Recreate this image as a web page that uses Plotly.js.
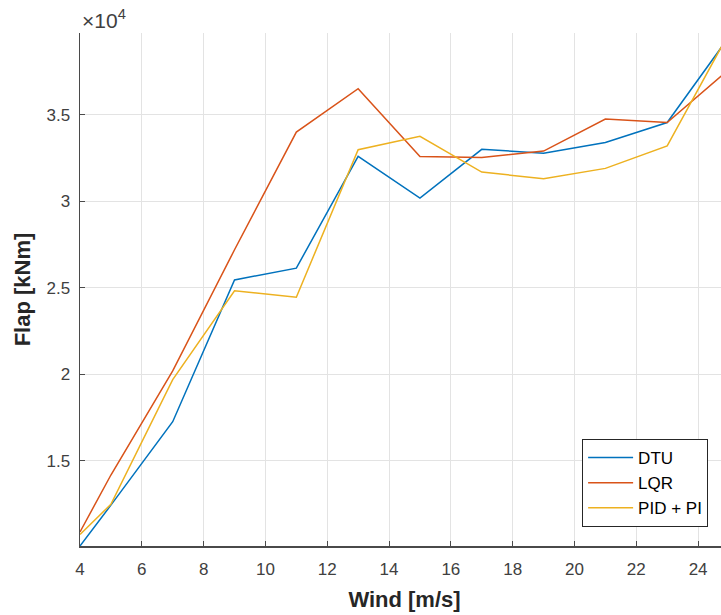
<!DOCTYPE html>
<html>
<head>
<meta charset="utf-8">
<script src="https://cdn.plot.ly/plotly-3.0.1.min.js"></script>
<style>
  html, body { margin: 0; padding: 0; overflow: hidden; background: #fff; }
  #chart { width: 735px; height: 615px; }
</style>
</head>
<body>
<div id="chart"></div>
<script>
// Wind speed [m/s]
const windSpeeds = [4, 5, 7, 9, 11, 13, 15, 17, 19, 21, 23, 25];
// Flap moment [kNm]
const dtuFlap = [10090, 12450, 17270, 25460, 26140, 32590, 30180, 33000, 32780, 33400, 34550, 39500];
const lqrFlap = [10900, 14190, 20200, 27200, 34000, 36500, 32590, 32530, 32900, 34750, 34550, 37620];
const pidFlap = [10750, 12500, 19700, 24830, 24460, 32980, 33750, 31690, 31300, 31900, 33200, 39720];
const seriesNames = ['DTU', 'LQR', 'PID + PI'];
const xTickVals = [4, 6, 8, 10, 12, 14, 16, 18, 20, 22, 24];
const yTickVals = [15000, 20000, 25000, 30000, 35000];
const yTickText = ['1.5', '2', '2.5', '3', '3.5'];

const colors = ['#0072BD', '#D95319', '#EDB120'];
const seriesData = [dtuFlap, lqrFlap, pidFlap];

const traces = seriesData.map((ys, i) => ({
  x: windSpeeds,
  y: ys,
  type: 'scatter',
  mode: 'lines',
  name: seriesNames[i],
  line: { color: colors[i], width: 1.5 }
}));

const fontFam = '"Liberation Sans", Arial, Helvetica, sans-serif';

const layout = {
  width: 735,
  height: 615,
  margin: { l: 80, r: 6, t: 33, b: 69 },
  paper_bgcolor: '#ffffff',
  plot_bgcolor: '#ffffff',
  font: { family: fontFam, size: 17, color: '#262626' },
  showlegend: true,
  legend: {
    x: 0.9678, xanchor: 'right',
    y: 0.037, yanchor: 'bottom',
    bgcolor: '#ffffff',
    bordercolor: '#262626',
    borderwidth: 1,
    font: { family: fontFam, size: 17, color: '#000000' },
    itemwidth: 45,
    tracegroupgap: 0
  },
  xaxis: {
    range: [4, 25],
    tickvals: xTickVals,
    ticktext: xTickVals.map(String),
    showgrid: true,
    gridcolor: '#e3e3e3',
    gridwidth: 1,
    zeroline: false,
    showline: true,
    linecolor: '#4a4a4a',
    linewidth: 1.5,
    mirror: false,
    ticks: 'inside',
    ticklen: 5,
    tickcolor: '#4a4a4a',
    ticklabelstandoff: 7,
    tickfont: { family: fontFam, size: 17, color: '#404040' },
    title: { text: '<b>Wind [m/s]</b>', font: { family: fontFam, size: 22, color: '#262626' }, standoff: 13 },
    automargin: false,
    fixedrange: true
  },
  yaxis: {
    range: [10090, 39720],
    tickvals: yTickVals,
    ticktext: yTickText,
    showgrid: true,
    gridcolor: '#e3e3e3',
    gridwidth: 1,
    zeroline: false,
    showline: true,
    linecolor: '#4a4a4a',
    linewidth: 1.5,
    mirror: false,
    ticks: 'inside',
    ticklen: 5,
    tickcolor: '#4a4a4a',
    ticklabelstandoff: 5,
    tickfont: { family: fontFam, size: 17, color: '#404040' },
    title: { text: '<b>Flap [kNm]</b>', font: { family: fontFam, size: 22, color: '#262626' }, standoff: 10 },
    automargin: false,
    fixedrange: true
  },
  annotations: [{
    xref: 'paper', yref: 'paper',
    x: 0, y: 1,
    xanchor: 'left', yanchor: 'bottom',
    yshift: -1,
    showarrow: false,
    text: '×10<sup>4</sup>',
    font: { family: fontFam, size: 21, color: '#404040' }
  }]
};

Plotly.newPlot('chart', traces, layout, { displayModeBar: false, staticPlot: true });
</script>
</body>
</html>
